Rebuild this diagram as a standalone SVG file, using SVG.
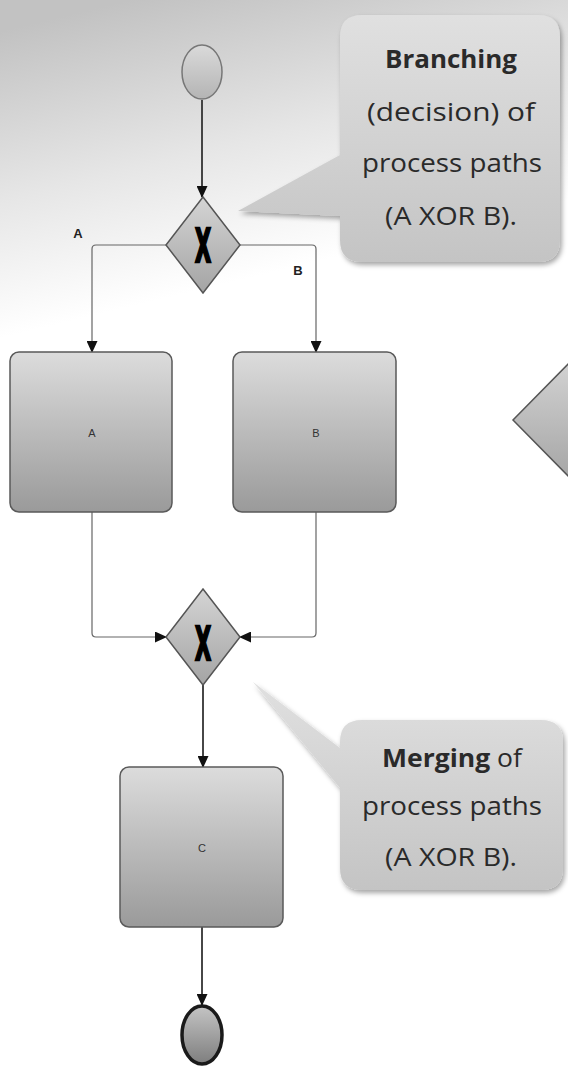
<svg xmlns="http://www.w3.org/2000/svg" width="568" height="1067" viewBox="0 0 568 1067">
  <defs>
    <linearGradient id="bg" gradientUnits="userSpaceOnUse" x1="130" y1="0" x2="200" y2="290">
      <stop offset="0" stop-color="#c2c2c2"/>
      <stop offset="0.55" stop-color="#e6e6e6"/>
      <stop offset="1" stop-color="#ffffff"/>
    </linearGradient>
    <linearGradient id="taskFill" x1="0" y1="0" x2="0" y2="1">
      <stop offset="0" stop-color="#dcdcdc"/>
      <stop offset="1" stop-color="#9a9a9a"/>
    </linearGradient>
    <linearGradient id="gwFill" x1="0" y1="0" x2="0" y2="1">
      <stop offset="0" stop-color="#d4d4d4"/>
      <stop offset="1" stop-color="#a4a4a4"/>
    </linearGradient>
    <linearGradient id="startFill" x1="0" y1="0" x2="0" y2="1">
      <stop offset="0" stop-color="#dadada"/>
      <stop offset="1" stop-color="#b4b4b4"/>
    </linearGradient>
    <linearGradient id="endFill" x1="0" y1="0" x2="0" y2="1">
      <stop offset="0" stop-color="#c4c4c4"/>
      <stop offset="1" stop-color="#7e7e7e"/>
    </linearGradient>
    <linearGradient id="noteFill" x1="0" y1="0" x2="0" y2="1">
      <stop offset="0" stop-color="#e0e0e0"/>
      <stop offset="1" stop-color="#c4c4c4"/>
    </linearGradient>
    <filter id="shadow" x="-10%" y="-10%" width="125%" height="125%">
      <feDropShadow dx="2" dy="3" stdDeviation="2.5" flood-color="#000" flood-opacity="0.35"/>
    </filter>
    <marker id="arrow" markerUnits="userSpaceOnUse" markerWidth="12" markerHeight="11" refX="11" refY="5.5" orient="auto">
      <path d="M0,0 L12,5.5 L0,11 Z" fill="#111"/>
    </marker>
    <style>
      .task { fill: url(#taskFill); stroke: #5a5a5a; stroke-width: 1.5; }
      .gw { fill: url(#gwFill); stroke: #555; stroke-width: 1.5; }
      .flow { fill: none; stroke: #333; stroke-width: 1.8; }
      .branch { fill: none; stroke: #666; stroke-width: 1.2; }
      .lbl { font-family: "Liberation Sans", Arial, sans-serif; font-size: 11px; fill: #333; text-anchor: middle; }
      .edge-lbl { font-family: "Liberation Sans", Arial, sans-serif; font-size: 13px; font-weight: bold; fill: #222; text-anchor: middle; }
      .xmark { font-family: "DejaVu Sans", "Liberation Sans", sans-serif; font-size: 22px; font-weight: bold; fill: #000; stroke: #000; stroke-width: 1.2; text-anchor: middle; }
      .note { fill: url(#noteFill); filter: url(#shadow); }
      .note-text { font-family: "Open Sans", "Liberation Sans", sans-serif; font-size: 25px; fill: #2a2a2a; text-anchor: middle; }
    </style>
  </defs>

  <!-- page background: grey haze at the top fading to white -->
  <rect x="0" y="0" width="568" height="1067" fill="url(#bg)"/>

  <!-- sequence flows -->
  <g id="connectors">
    <path class="flow" d="M202,100 V197" marker-end="url(#arrow)"/>
    <path class="branch" d="M166,245 H96 Q92,245 92,249 V352" marker-end="url(#arrow)"/>
    <path class="branch" d="M240,245 H312 Q316,245 316,249 V352" marker-end="url(#arrow)"/>
    <path class="branch" d="M92,512 V633 Q92,637 96,637 H166" marker-end="url(#arrow)"/>
    <path class="branch" d="M316,512 V633 Q316,637 312,637 H240" marker-end="url(#arrow)"/>
    <path class="flow" d="M203,685 V767" marker-end="url(#arrow)"/>
    <path class="flow" d="M202,927 V1005" marker-end="url(#arrow)"/>
    <text class="edge-lbl" x="78" y="238">A</text>
    <text class="edge-lbl" x="298" y="275">B</text>
  </g>

  <g id="start">
    <ellipse cx="202" cy="72" rx="20" ry="27" fill="url(#startFill)" stroke="#777" stroke-width="1.5"/>
  </g>

  <g id="split">
    <polygon class="gw" points="203,197 240,245 203,293 166,245"/>
    <text class="xmark" transform="translate(203,262) scale(0.95,2.1)" x="0" y="0">X</text>
  </g>

  <g id="taskA">
    <rect class="task" x="10" y="352" width="162" height="160" rx="9"/>
    <text class="lbl" x="92" y="437">A</text>
  </g>

  <g id="taskB">
    <rect class="task" x="233" y="352" width="163" height="160" rx="9"/>
    <text class="lbl" x="316" y="437">B</text>
  </g>

  <g id="sideGateway">
    <polygon class="gw" points="575,357 638,420 575,483 513,420"/>
  </g>

  <g id="join">
    <polygon class="gw" points="203,589 240,637 203,685 166,637"/>
    <text class="xmark" transform="translate(203,660) scale(0.95,2.1)" x="0" y="0">X</text>
  </g>

  <g id="taskC">
    <rect class="task" x="120" y="767" width="163" height="160" rx="9"/>
    <text class="lbl" x="202" y="852">C</text>
  </g>

  <g id="end">
    <ellipse cx="202" cy="1035" rx="20" ry="29" fill="url(#endFill)" stroke="#1a1a1a" stroke-width="3.5"/>
  </g>

  <g id="noteBranching">
    <path class="note" d="M362,15 H538 Q560,15 560,37 V240 Q560,262 538,262 H362 Q340,262 340,240 V216 L238,211 L340,155 V37 Q340,15 362,15 Z"/>
    <text class="note-text" x="451" y="68" font-weight="bold" textLength="132" lengthAdjust="spacingAndGlyphs">Branching</text>
    <text class="note-text" x="451" y="121" textLength="168" lengthAdjust="spacingAndGlyphs">(decision) of</text>
    <text class="note-text" x="452" y="172" textLength="180" lengthAdjust="spacingAndGlyphs">process paths</text>
    <text class="note-text" x="451" y="225" textLength="132" lengthAdjust="spacingAndGlyphs">(A XOR B).</text>
  </g>

  <g id="noteMerging">
    <path class="note" d="M362,720 H541 Q563,720 563,742 V868 Q563,890 541,890 H362 Q340,890 340,868 V788 L253,682 L340,748 V742 Q340,720 362,720 Z"/>
    <text class="note-text" x="452" y="767" textLength="140" lengthAdjust="spacingAndGlyphs"><tspan font-weight="bold">Merging</tspan> of</text>
    <text class="note-text" x="452" y="815" textLength="180" lengthAdjust="spacingAndGlyphs">process paths</text>
    <text class="note-text" x="451" y="866" textLength="132" lengthAdjust="spacingAndGlyphs">(A XOR B).</text>
  </g>
</svg>
